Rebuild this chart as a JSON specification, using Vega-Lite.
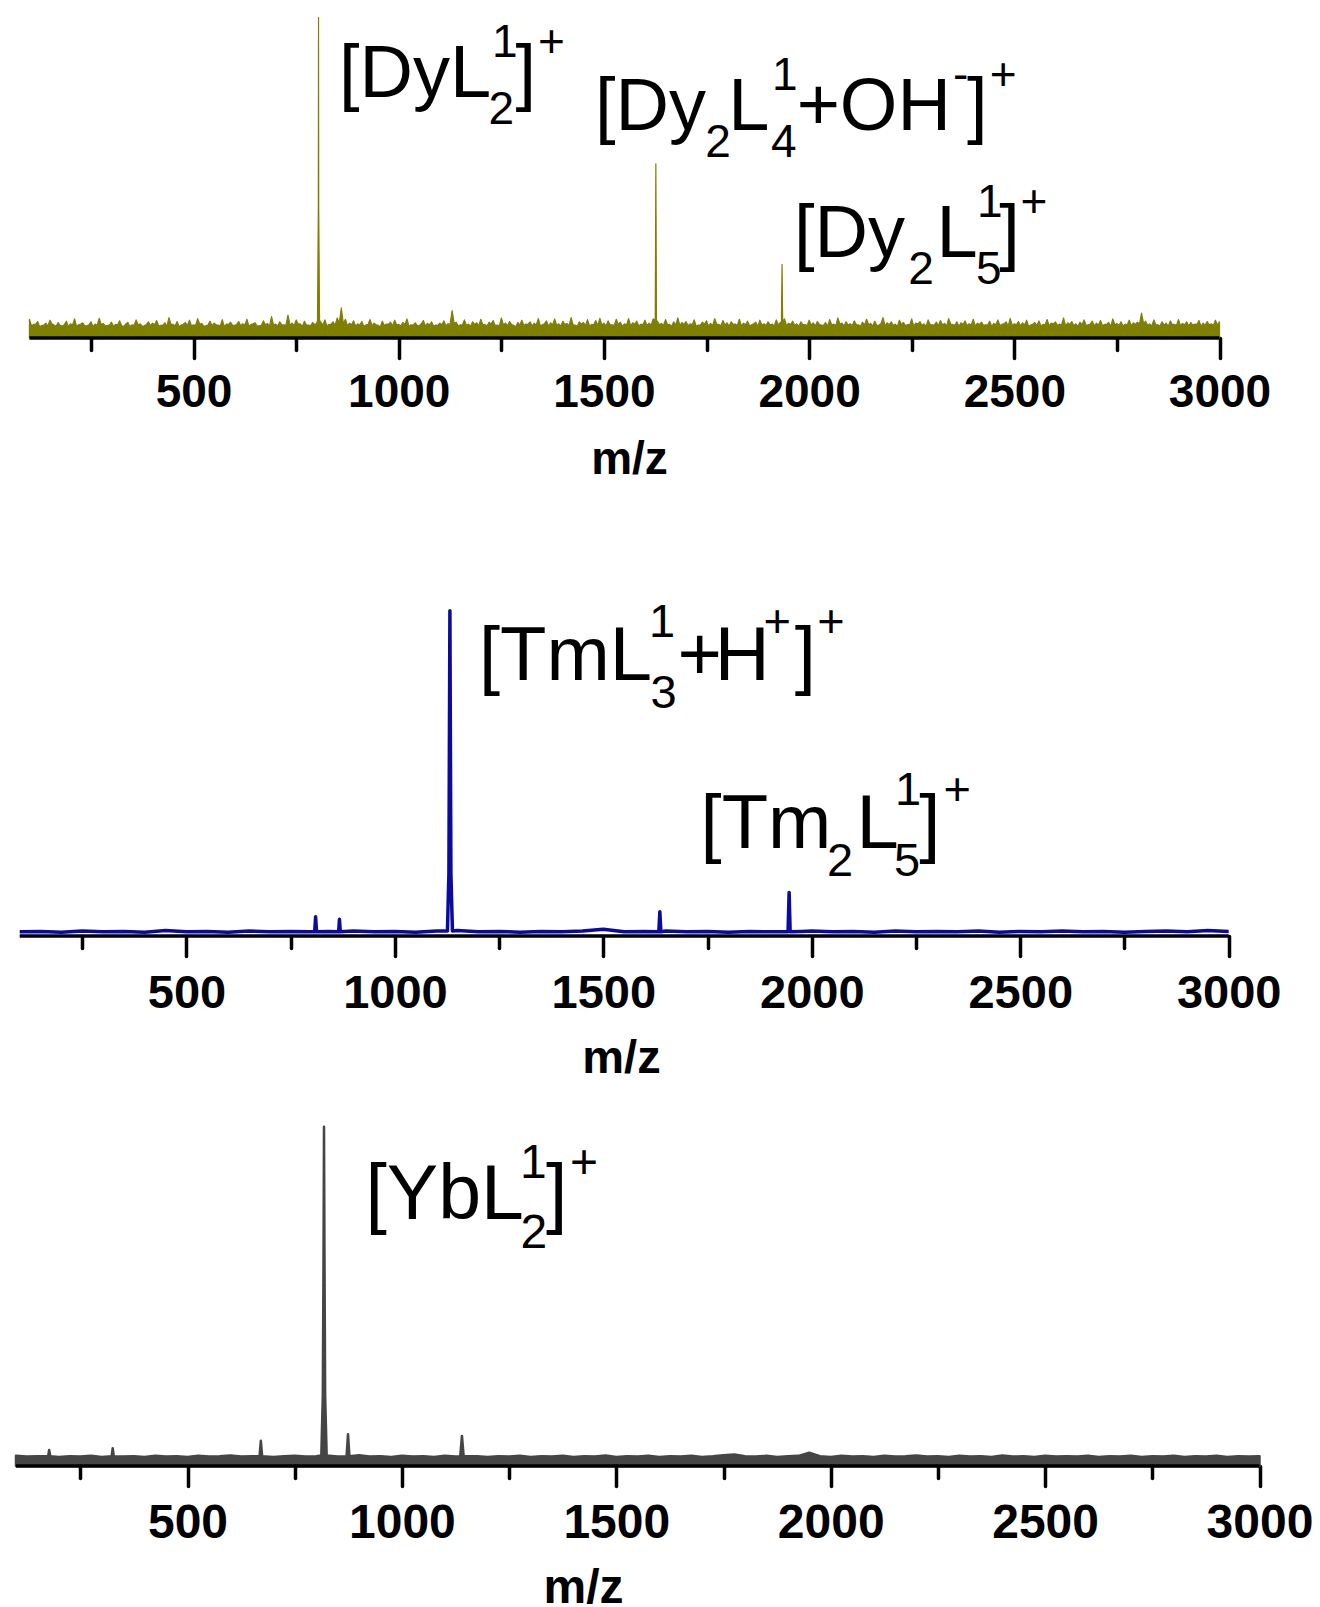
{
  "$schema": "https://vega.github.io/schema/vega-lite/v6.json",
  "padding": {"left": 14, "top": 15, "right": 0, "bottom": 0},
  "background": "white",
  "bounds": "flush",
  "spacing": 180,
  "config": {
    "view": {"stroke": null},
    "font": "Liberation Sans",
    "axis": {"grid": false, "domain": false, "format": "d", "tickColor": "black", "tickWidth": 3.5, "tickCap": "round", "labelFont": "Liberation Sans", "labelFontWeight": "bold", "labelColor": "black", "labelFlush": false, "labelOverlap": false, "labelBound": false, "labelBaseline": "alphabetic", "titleFont": "Liberation Sans", "titleFontWeight": "bold", "titleColor": "black", "titleBaseline": "alphabetic"}
  },
  "datasets": {
    "dy": [
      {"mz":100,"i":5.8},{"mz":110,"i":4.2},{"mz":120,"i":5.1},{"mz":130,"i":3.9},{"mz":140,"i":4.6},{"mz":150,"i":5.5},{"mz":160,"i":4.0},{"mz":170,"i":4.8},{"mz":180,"i":3.7},{"mz":190,"i":5.2},
      {"mz":200,"i":4.4},{"mz":210,"i":5.9},{"mz":220,"i":4.1},{"mz":230,"i":4.7},{"mz":240,"i":3.8},{"mz":250,"i":5.0},{"mz":260,"i":4.3},{"mz":270,"i":6.1},{"mz":280,"i":4.5},{"mz":290,"i":3.9},
      {"mz":300,"i":4.9},{"mz":310,"i":4.2},{"mz":320,"i":5.3},{"mz":330,"i":3.6},{"mz":340,"i":4.8},{"mz":350,"i":4.1},{"mz":360,"i":5.6},{"mz":370,"i":4.4},{"mz":380,"i":3.8},{"mz":390,"i":5.0},
      {"mz":400,"i":4.6},{"mz":410,"i":5.4},{"mz":420,"i":3.9},{"mz":430,"i":4.7},{"mz":440,"i":6.3},{"mz":450,"i":4.2},{"mz":460,"i":5.1},{"mz":470,"i":4.0},{"mz":480,"i":4.8},{"mz":490,"i":5.5},
      {"mz":500,"i":4.1},{"mz":510,"i":6.0},{"mz":520,"i":4.5},{"mz":530,"i":3.8},{"mz":540,"i":5.2},{"mz":550,"i":4.6},{"mz":560,"i":4.0},{"mz":570,"i":5.7},{"mz":580,"i":4.3},{"mz":590,"i":4.9},
      {"mz":600,"i":3.9},{"mz":610,"i":5.1},{"mz":620,"i":4.4},{"mz":630,"i":5.8},{"mz":640,"i":4.2},{"mz":650,"i":4.7},{"mz":660,"i":3.8},{"mz":670,"i":5.3},{"mz":680,"i":4.5},{"mz":690,"i":6.6},
      {"mz":700,"i":4.3},{"mz":710,"i":5.0},{"mz":720,"i":4.1},{"mz":730,"i":7.1},{"mz":740,"i":4.6},{"mz":750,"i":5.6},{"mz":760,"i":4.4},{"mz":770,"i":5.2},{"mz":780,"i":4.0},{"mz":790,"i":4.8},
      {"mz":800,"i":4.5},{"mz":802,"i":5.5},{"mz":804,"i":40},{"mz":804.5,"i":99.3},{"mz":805,"i":40},{"mz":807,"i":5.5},{"mz":810,"i":4.9},{"mz":820,"i":5.6},{"mz":830,"i":4.2},{"mz":840,"i":5.0},{"mz":850,"i":6.2},{"mz":860,"i":9.3},{"mz":870,"i":5.8},{"mz":880,"i":4.6},{"mz":890,"i":5.3},
      {"mz":900,"i":4.4},{"mz":910,"i":5.1},{"mz":920,"i":4.0},{"mz":930,"i":5.7},{"mz":940,"i":4.6},{"mz":950,"i":3.9},{"mz":960,"i":5.2},{"mz":970,"i":4.3},{"mz":980,"i":4.9},{"mz":990,"i":5.5},
      {"mz":1000,"i":4.2},{"mz":1010,"i":4.8},{"mz":1020,"i":5.9},{"mz":1030,"i":4.1},{"mz":1040,"i":4.7},{"mz":1050,"i":3.8},{"mz":1060,"i":5.4},{"mz":1070,"i":4.5},{"mz":1080,"i":5.0},{"mz":1090,"i":4.0},
      {"mz":1100,"i":4.6},{"mz":1110,"i":5.3},{"mz":1120,"i":4.4},{"mz":1130,"i":8.5},{"mz":1140,"i":4.9},{"mz":1150,"i":4.1},{"mz":1160,"i":5.6},{"mz":1170,"i":4.3},{"mz":1180,"i":5.0},{"mz":1190,"i":4.7},
      {"mz":1200,"i":5.8},{"mz":1210,"i":4.2},{"mz":1220,"i":4.9},{"mz":1230,"i":5.4},{"mz":1240,"i":4.0},{"mz":1250,"i":6.2},{"mz":1260,"i":4.6},{"mz":1270,"i":5.1},{"mz":1280,"i":3.9},{"mz":1290,"i":4.8},
      {"mz":1300,"i":5.5},{"mz":1310,"i":4.3},{"mz":1320,"i":5.0},{"mz":1330,"i":4.6},{"mz":1340,"i":6.0},{"mz":1350,"i":4.1},{"mz":1360,"i":5.3},{"mz":1370,"i":4.7},{"mz":1380,"i":5.9},{"mz":1390,"i":4.4},
      {"mz":1400,"i":5.2},{"mz":1410,"i":4.5},{"mz":1420,"i":6.3},{"mz":1430,"i":4.0},{"mz":1440,"i":5.0},{"mz":1450,"i":4.8},{"mz":1460,"i":5.7},{"mz":1470,"i":4.2},{"mz":1480,"i":5.4},{"mz":1490,"i":6.1},
      {"mz":1500,"i":4.6},{"mz":1510,"i":5.3},{"mz":1520,"i":4.1},{"mz":1530,"i":5.8},{"mz":1540,"i":4.9},{"mz":1550,"i":4.4},{"mz":1560,"i":6.0},{"mz":1570,"i":4.7},{"mz":1580,"i":5.2},{"mz":1590,"i":4.3},
      {"mz":1600,"i":5.5},{"mz":1610,"i":4.6},{"mz":1620,"i":5.9},{"mz":1625,"i":5.5},{"mz":1626.5,"i":53.9},{"mz":1628,"i":5.5},{"mz":1630,"i":5.2},{"mz":1640,"i":4.5},{"mz":1650,"i":5.7},{"mz":1660,"i":4.2},{"mz":1670,"i":5.0},{"mz":1680,"i":6.2},{"mz":1690,"i":4.8},
      {"mz":1700,"i":5.1},{"mz":1710,"i":4.4},{"mz":1720,"i":5.6},{"mz":1730,"i":4.0},{"mz":1740,"i":4.9},{"mz":1750,"i":5.3},{"mz":1760,"i":4.5},{"mz":1770,"i":6.0},{"mz":1780,"i":4.2},{"mz":1790,"i":5.4},
      {"mz":1800,"i":4.7},{"mz":1810,"i":5.0},{"mz":1820,"i":4.3},{"mz":1830,"i":5.8},{"mz":1840,"i":4.6},{"mz":1850,"i":5.2},{"mz":1860,"i":4.1},{"mz":1870,"i":4.9},{"mz":1880,"i":5.5},{"mz":1890,"i":4.4},
      {"mz":1900,"i":5.0},{"mz":1910,"i":4.3},{"mz":1920,"i":5.6},{"mz":1930,"i":4.8},{"mz":1932.5,"i":5.0},{"mz":1934,"i":22.8},{"mz":1935.5,"i":5.0},{"mz":1940,"i":5.9},{"mz":1950,"i":4.6},{"mz":1960,"i":5.2},{"mz":1970,"i":4.4},{"mz":1980,"i":5.0},{"mz":1990,"i":4.2},
      {"mz":2000,"i":5.5},{"mz":2010,"i":4.7},{"mz":2020,"i":5.1},{"mz":2030,"i":4.0},{"mz":2040,"i":4.8},{"mz":2050,"i":5.7},{"mz":2060,"i":4.3},{"mz":2070,"i":6.2},{"mz":2080,"i":4.6},{"mz":2090,"i":5.0},
      {"mz":2100,"i":4.4},{"mz":2110,"i":5.3},{"mz":2120,"i":4.1},{"mz":2130,"i":4.9},{"mz":2140,"i":5.8},{"mz":2150,"i":4.5},{"mz":2160,"i":5.2},{"mz":2170,"i":4.0},{"mz":2180,"i":6.3},{"mz":2190,"i":4.7},
      {"mz":2200,"i":5.0},{"mz":2210,"i":4.3},{"mz":2220,"i":5.5},{"mz":2230,"i":4.8},{"mz":2240,"i":4.2},{"mz":2250,"i":5.9},{"mz":2260,"i":4.6},{"mz":2270,"i":5.1},{"mz":2280,"i":4.4},{"mz":2290,"i":5.6},
      {"mz":2300,"i":4.1},{"mz":2310,"i":4.9},{"mz":2320,"i":5.4},{"mz":2330,"i":4.5},{"mz":2340,"i":6.0},{"mz":2350,"i":4.2},{"mz":2360,"i":5.0},{"mz":2370,"i":4.7},{"mz":2380,"i":5.3},{"mz":2390,"i":4.4},
      {"mz":2400,"i":5.8},{"mz":2410,"i":4.6},{"mz":2420,"i":4.9},{"mz":2430,"i":4.1},{"mz":2440,"i":5.2},{"mz":2450,"i":4.5},{"mz":2460,"i":5.6},{"mz":2470,"i":4.3},{"mz":2480,"i":5.0},{"mz":2490,"i":6.1},
      {"mz":2500,"i":4.4},{"mz":2510,"i":5.1},{"mz":2520,"i":4.7},{"mz":2530,"i":5.5},{"mz":2540,"i":4.0},{"mz":2550,"i":4.8},{"mz":2560,"i":5.3},{"mz":2570,"i":4.2},{"mz":2580,"i":5.7},{"mz":2590,"i":4.6},
      {"mz":2600,"i":5.0},{"mz":2610,"i":4.3},{"mz":2620,"i":6.2},{"mz":2630,"i":4.7},{"mz":2640,"i":5.1},{"mz":2650,"i":4.4},{"mz":2660,"i":4.9},{"mz":2670,"i":5.6},{"mz":2680,"i":4.1},{"mz":2690,"i":5.2},
      {"mz":2700,"i":4.6},{"mz":2710,"i":5.4},{"mz":2720,"i":4.2},{"mz":2730,"i":4.8},{"mz":2740,"i":5.9},{"mz":2750,"i":4.5},{"mz":2760,"i":5.0},{"mz":2770,"i":4.3},{"mz":2780,"i":5.5},{"mz":2790,"i":4.7},
      {"mz":2800,"i":4.9},{"mz":2810,"i":7.7},{"mz":2820,"i":5.2},{"mz":2830,"i":4.4},{"mz":2840,"i":5.6},{"mz":2850,"i":4.1},{"mz":2860,"i":5.0},{"mz":2870,"i":4.6},{"mz":2880,"i":5.3},{"mz":2890,"i":4.2},
      {"mz":2900,"i":5.7},{"mz":2910,"i":4.5},{"mz":2920,"i":5.0},{"mz":2930,"i":4.8},{"mz":2940,"i":4.3},{"mz":2950,"i":5.4},{"mz":2960,"i":4.6},{"mz":2970,"i":5.1},{"mz":2980,"i":4.4},{"mz":2990,"i":5.5},{"mz":3000,"i":5.0},
      {"mz":105,"i":3.8},{"mz":115,"i":4.2},{"mz":125,"i":3.5},{"mz":135,"i":4.0},{"mz":145,"i":3.7},{"mz":155,"i":4.4},{"mz":165,"i":3.6},{"mz":175,"i":3.9},{"mz":185,"i":4.1},{"mz":195,"i":3.5},
      {"mz":205,"i":4.0},{"mz":215,"i":3.6},{"mz":225,"i":4.3},{"mz":235,"i":3.8},{"mz":245,"i":4.1},{"mz":255,"i":3.5},{"mz":265,"i":3.9},{"mz":275,"i":4.2},{"mz":285,"i":3.7},{"mz":295,"i":4.0},
      {"mz":305,"i":3.6},{"mz":315,"i":4.1},{"mz":325,"i":3.8},{"mz":335,"i":4.4},{"mz":345,"i":3.5},{"mz":355,"i":3.9},{"mz":365,"i":4.0},{"mz":375,"i":3.7},{"mz":385,"i":4.2},{"mz":395,"i":3.8},
      {"mz":405,"i":4.1},{"mz":415,"i":3.7},{"mz":425,"i":4.0},{"mz":435,"i":3.6},{"mz":445,"i":4.3},{"mz":455,"i":3.8},{"mz":465,"i":3.5},{"mz":475,"i":4.2},{"mz":485,"i":3.9},{"mz":495,"i":3.7},
      {"mz":505,"i":3.9},{"mz":515,"i":4.3},{"mz":525,"i":3.6},{"mz":535,"i":4.0},{"mz":545,"i":3.8},{"mz":555,"i":4.1},{"mz":565,"i":3.7},{"mz":575,"i":3.5},{"mz":585,"i":4.2},{"mz":595,"i":3.9},
      {"mz":605,"i":4.2},{"mz":615,"i":3.8},{"mz":625,"i":4.0},{"mz":635,"i":3.6},{"mz":645,"i":4.4},{"mz":655,"i":3.7},{"mz":665,"i":3.9},{"mz":675,"i":4.1},{"mz":685,"i":3.6},{"mz":695,"i":4.0},
      {"mz":705,"i":3.7},{"mz":715,"i":4.1},{"mz":725,"i":3.9},{"mz":735,"i":4.0},{"mz":745,"i":3.8},{"mz":755,"i":4.3},{"mz":765,"i":3.6},{"mz":775,"i":4.0},{"mz":785,"i":3.8},{"mz":795,"i":4.2},
      {"mz":815,"i":4.0},{"mz":825,"i":3.7},{"mz":835,"i":4.3},{"mz":845,"i":3.9},{"mz":855,"i":4.6},{"mz":865,"i":4.4},{"mz":875,"i":3.8},{"mz":885,"i":4.1},{"mz":895,"i":3.7},
      {"mz":905,"i":4.0},{"mz":915,"i":3.6},{"mz":925,"i":4.2},{"mz":935,"i":3.8},{"mz":945,"i":4.1},{"mz":955,"i":3.5},{"mz":965,"i":3.9},{"mz":975,"i":4.3},{"mz":985,"i":3.7},{"mz":995,"i":4.0},
      {"mz":1005,"i":3.8},{"mz":1015,"i":4.2},{"mz":1025,"i":3.6},{"mz":1035,"i":4.0},{"mz":1045,"i":3.9},{"mz":1055,"i":4.4},{"mz":1065,"i":3.7},{"mz":1075,"i":4.1},{"mz":1085,"i":3.6},{"mz":1095,"i":3.9},
      {"mz":1105,"i":4.1},{"mz":1115,"i":3.8},{"mz":1125,"i":4.2},{"mz":1135,"i":4.5},{"mz":1145,"i":3.7},{"mz":1155,"i":4.0},{"mz":1165,"i":3.9},{"mz":1175,"i":3.6},{"mz":1185,"i":4.2},{"mz":1195,"i":3.8},
      {"mz":1205,"i":4.0},{"mz":1215,"i":3.7},{"mz":1225,"i":4.3},{"mz":1235,"i":3.9},{"mz":1245,"i":3.6},{"mz":1255,"i":4.1},{"mz":1265,"i":3.8},{"mz":1275,"i":4.2},{"mz":1285,"i":3.5},{"mz":1295,"i":4.0},
      {"mz":1305,"i":3.9},{"mz":1315,"i":4.2},{"mz":1325,"i":3.7},{"mz":1335,"i":4.0},{"mz":1345,"i":3.8},{"mz":1355,"i":4.4},{"mz":1365,"i":3.6},{"mz":1375,"i":4.1},{"mz":1385,"i":3.9},{"mz":1395,"i":3.7},
      {"mz":1405,"i":4.2},{"mz":1415,"i":3.8},{"mz":1425,"i":4.0},{"mz":1435,"i":3.6},{"mz":1445,"i":4.3},{"mz":1455,"i":3.9},{"mz":1465,"i":3.7},{"mz":1475,"i":4.1},{"mz":1485,"i":3.8},{"mz":1495,"i":4.0},
      {"mz":1505,"i":3.7},{"mz":1515,"i":4.1},{"mz":1525,"i":3.9},{"mz":1535,"i":4.2},{"mz":1545,"i":3.6},{"mz":1555,"i":4.0},{"mz":1565,"i":3.8},{"mz":1575,"i":4.3},{"mz":1585,"i":3.7},{"mz":1595,"i":4.1},
      {"mz":1605,"i":3.9},{"mz":1615,"i":4.0},{"mz":1635,"i":4.2},{"mz":1645,"i":3.8},{"mz":1655,"i":4.1},{"mz":1665,"i":3.6},{"mz":1675,"i":4.0},{"mz":1685,"i":3.9},{"mz":1695,"i":4.2},
      {"mz":1705,"i":3.8},{"mz":1715,"i":4.1},{"mz":1725,"i":3.6},{"mz":1735,"i":4.0},{"mz":1745,"i":4.3},{"mz":1755,"i":3.7},{"mz":1765,"i":3.9},{"mz":1775,"i":4.2},{"mz":1785,"i":3.8},{"mz":1795,"i":4.0},
      {"mz":1805,"i":3.6},{"mz":1815,"i":4.2},{"mz":1825,"i":3.9},{"mz":1835,"i":3.7},{"mz":1845,"i":4.1},{"mz":1855,"i":3.8},{"mz":1865,"i":4.4},{"mz":1875,"i":3.6},{"mz":1885,"i":4.0},{"mz":1895,"i":3.9},
      {"mz":1905,"i":4.1},{"mz":1915,"i":3.7},{"mz":1925,"i":4.0},{"mz":1945,"i":3.8},{"mz":1955,"i":4.2},{"mz":1965,"i":3.9},{"mz":1975,"i":3.6},{"mz":1985,"i":4.1},{"mz":1995,"i":3.8},
      {"mz":2005,"i":4.0},{"mz":2015,"i":3.7},{"mz":2025,"i":4.2},{"mz":2035,"i":3.9},{"mz":2045,"i":3.6},{"mz":2055,"i":4.1},{"mz":2065,"i":3.8},{"mz":2075,"i":4.3},{"mz":2085,"i":3.7},{"mz":2095,"i":4.0},
      {"mz":2105,"i":3.8},{"mz":2115,"i":4.1},{"mz":2125,"i":3.6},{"mz":2135,"i":4.0},{"mz":2145,"i":4.2},{"mz":2155,"i":3.7},{"mz":2165,"i":3.9},{"mz":2175,"i":4.4},{"mz":2185,"i":3.8},{"mz":2195,"i":4.1},
      {"mz":2205,"i":3.9},{"mz":2215,"i":3.6},{"mz":2225,"i":4.2},{"mz":2235,"i":3.8},{"mz":2245,"i":4.0},{"mz":2255,"i":3.7},{"mz":2265,"i":4.3},{"mz":2275,"i":3.9},{"mz":2285,"i":3.6},{"mz":2295,"i":4.1},
      {"mz":2305,"i":4.0},{"mz":2315,"i":3.8},{"mz":2325,"i":4.1},{"mz":2335,"i":3.7},{"mz":2345,"i":4.3},{"mz":2355,"i":3.9},{"mz":2365,"i":3.6},{"mz":2375,"i":4.2},{"mz":2385,"i":3.8},{"mz":2395,"i":4.0},
      {"mz":2405,"i":3.7},{"mz":2415,"i":4.2},{"mz":2425,"i":3.9},{"mz":2435,"i":4.0},{"mz":2445,"i":3.6},{"mz":2455,"i":4.1},{"mz":2465,"i":3.8},{"mz":2475,"i":4.4},{"mz":2485,"i":3.7},{"mz":2495,"i":3.9},
      {"mz":2505,"i":4.1},{"mz":2515,"i":3.8},{"mz":2525,"i":4.0},{"mz":2535,"i":3.6},{"mz":2545,"i":4.2},{"mz":2555,"i":3.9},{"mz":2565,"i":3.7},{"mz":2575,"i":4.1},{"mz":2585,"i":3.8},{"mz":2595,"i":4.3},
      {"mz":2605,"i":3.9},{"mz":2615,"i":4.0},{"mz":2625,"i":3.7},{"mz":2635,"i":4.2},{"mz":2645,"i":3.8},{"mz":2655,"i":3.6},{"mz":2665,"i":4.1},{"mz":2675,"i":3.9},{"mz":2685,"i":4.3},{"mz":2695,"i":3.7},
      {"mz":2705,"i":4.0},{"mz":2715,"i":3.8},{"mz":2725,"i":4.2},{"mz":2735,"i":3.6},{"mz":2745,"i":4.1},{"mz":2755,"i":3.9},{"mz":2765,"i":3.7},{"mz":2775,"i":4.0},{"mz":2785,"i":3.8},{"mz":2795,"i":4.2},
      {"mz":2805,"i":4.3},{"mz":2815,"i":4.5},{"mz":2825,"i":3.9},{"mz":2835,"i":3.7},{"mz":2845,"i":4.1},{"mz":2855,"i":3.8},{"mz":2865,"i":4.0},{"mz":2875,"i":3.6},{"mz":2885,"i":4.2},{"mz":2895,"i":3.9},
      {"mz":2905,"i":3.8},{"mz":2915,"i":4.1},{"mz":2925,"i":3.7},{"mz":2935,"i":4.0},{"mz":2945,"i":4.2},{"mz":2955,"i":3.6},{"mz":2965,"i":3.9},{"mz":2975,"i":4.1},{"mz":2985,"i":3.8},{"mz":2995,"i":4.0}
    ],
    "tm": [
      {"mz":100,"i":1.0},{"mz":150,"i":1.1},{"mz":200,"i":0.9},{"mz":250,"i":1.2},{"mz":300,"i":1.0},{"mz":350,"i":1.1},{"mz":400,"i":0.9},{"mz":450,"i":1.3},{"mz":500,"i":1.0},{"mz":550,"i":1.1},
      {"mz":600,"i":0.9},{"mz":650,"i":1.2},{"mz":700,"i":1.0},{"mz":750,"i":1.1},{"mz":800,"i":1.0},{"mz":807.5,"i":1.0},{"mz":809.8,"i":4.6},{"mz":812,"i":1.0},{"mz":840,"i":1.1},
      {"mz":865,"i":1.0},{"mz":867,"i":4.0},{"mz":869,"i":1.0},{"mz":900,"i":1.2},{"mz":950,"i":1.0},{"mz":1000,"i":1.1},{"mz":1050,"i":0.9},{"mz":1100,"i":1.2},
      {"mz":1126,"i":1.2},{"mz":1129.5,"i":15},{"mz":1131.9,"i":77.8},{"mz":1134.3,"i":15},{"mz":1138,"i":1.2},
      {"mz":1150,"i":1.3},{"mz":1200,"i":1.0},{"mz":1250,"i":1.1},{"mz":1300,"i":0.9},{"mz":1350,"i":1.1},{"mz":1400,"i":1.0},{"mz":1450,"i":1.2},{"mz":1500,"i":1.6},{"mz":1550,"i":1.0},{"mz":1600,"i":1.1},
      {"mz":1633,"i":1.0},{"mz":1635.5,"i":5.8},{"mz":1638,"i":1.0},{"mz":1650,"i":1.2},{"mz":1700,"i":1.0},{"mz":1750,"i":1.1},{"mz":1800,"i":0.9},{"mz":1850,"i":1.1},{"mz":1900,"i":1.0},
      {"mz":1943,"i":1.0},{"mz":1945.6,"i":10.4},{"mz":1948,"i":1.0},{"mz":1975,"i":1.1},{"mz":2000,"i":1.2},{"mz":2050,"i":1.0},{"mz":2100,"i":1.1},{"mz":2150,"i":0.9},{"mz":2200,"i":1.2},
      {"mz":2250,"i":1.0},{"mz":2300,"i":1.1},{"mz":2350,"i":1.0},{"mz":2400,"i":1.2},{"mz":2450,"i":0.9},{"mz":2500,"i":1.1},{"mz":2550,"i":1.0},{"mz":2600,"i":1.2},{"mz":2650,"i":1.0},
      {"mz":2700,"i":1.1},{"mz":2750,"i":0.9},{"mz":2800,"i":1.1},{"mz":2850,"i":1.2},{"mz":2900,"i":1.0},{"mz":2950,"i":1.3},{"mz":3000,"i":1.1}
    ],
    "yb": [
      {"mz":100,"i":2.9},{"mz":125,"i":2.7},{"mz":150,"i":2.8},{"mz":175,"i":2.8},{"mz":177.3,"i":4.6},{"mz":180,"i":2.8},{"mz":200,"i":2.6},{"mz":225,"i":2.8},{"mz":250,"i":2.7},{"mz":275,"i":2.9},{"mz":300,"i":2.6},
      {"mz":323,"i":2.8},{"mz":325.5,"i":5.1},{"mz":328,"i":2.8},{"mz":350,"i":2.7},{"mz":375,"i":2.8},{"mz":400,"i":2.6},{"mz":425,"i":2.9},{"mz":450,"i":2.7},{"mz":475,"i":2.8},{"mz":500,"i":2.6},
      {"mz":525,"i":2.9},{"mz":550,"i":2.7},{"mz":575,"i":2.8},{"mz":600,"i":3.0},{"mz":625,"i":2.7},{"mz":650,"i":2.8},{"mz":668,"i":2.8},{"mz":671,"i":7.2},{"mz":674,"i":2.8},
      {"mz":700,"i":2.6},{"mz":725,"i":2.8},{"mz":750,"i":2.9},{"mz":775,"i":2.7},{"mz":800,"i":2.8},
      {"mz":812,"i":3.0},{"mz":815.5,"i":20},{"mz":817.2,"i":60},{"mz":818.3,"i":96.9},{"mz":819.4,"i":60},{"mz":821,"i":20},{"mz":824.5,"i":3.0},
      {"mz":850,"i":2.7},{"mz":871,"i":2.8},{"mz":874.3,"i":9.1},{"mz":877.5,"i":2.8},{"mz":900,"i":3.1},{"mz":925,"i":2.7},{"mz":950,"i":2.8},{"mz":975,"i":2.6},{"mz":1000,"i":2.9},
      {"mz":1025,"i":2.7},{"mz":1050,"i":2.8},{"mz":1075,"i":2.6},{"mz":1100,"i":2.9},{"mz":1125,"i":2.7},{"mz":1136,"i":2.8},{"mz":1140,"i":8.6},{"mz":1144,"i":2.8},{"mz":1175,"i":2.8},
      {"mz":1200,"i":2.6},{"mz":1225,"i":2.8},{"mz":1250,"i":2.7},{"mz":1275,"i":2.9},{"mz":1300,"i":2.6},{"mz":1325,"i":2.8},{"mz":1350,"i":2.7},{"mz":1375,"i":2.9},{"mz":1400,"i":2.6},
      {"mz":1425,"i":2.8},{"mz":1450,"i":2.7},{"mz":1475,"i":3.0},{"mz":1500,"i":2.6},{"mz":1525,"i":2.8},{"mz":1550,"i":2.7},{"mz":1575,"i":2.9},{"mz":1600,"i":2.6},{"mz":1625,"i":2.8},
      {"mz":1650,"i":2.7},{"mz":1675,"i":2.9},{"mz":1700,"i":2.6},{"mz":1725,"i":2.8},{"mz":1750,"i":3.1},{"mz":1775,"i":3.3},{"mz":1800,"i":2.8},{"mz":1825,"i":2.7},{"mz":1850,"i":2.9},
      {"mz":1875,"i":2.6},{"mz":1900,"i":2.8},{"mz":1925,"i":2.9},{"mz":1950,"i":3.8},{"mz":1975,"i":2.8},{"mz":2000,"i":2.6},{"mz":2025,"i":2.9},{"mz":2050,"i":2.7},{"mz":2075,"i":2.8},
      {"mz":2100,"i":2.6},{"mz":2125,"i":2.9},{"mz":2150,"i":2.7},{"mz":2175,"i":2.8},{"mz":2200,"i":3.0},{"mz":2225,"i":2.7},{"mz":2250,"i":2.8},{"mz":2275,"i":2.6},{"mz":2300,"i":2.9},
      {"mz":2325,"i":2.7},{"mz":2350,"i":2.8},{"mz":2375,"i":2.6},{"mz":2400,"i":3.0},{"mz":2425,"i":2.7},{"mz":2450,"i":2.8},{"mz":2475,"i":2.6},{"mz":2500,"i":2.9},{"mz":2525,"i":2.7},
      {"mz":2550,"i":2.8},{"mz":2575,"i":2.7},{"mz":2600,"i":2.9},{"mz":2625,"i":2.6},{"mz":2650,"i":2.8},{"mz":2675,"i":2.7},{"mz":2700,"i":2.9},{"mz":2725,"i":2.6},{"mz":2750,"i":2.8},
      {"mz":2775,"i":2.7},{"mz":2800,"i":2.9},{"mz":2825,"i":2.6},{"mz":2850,"i":2.8},{"mz":2875,"i":2.7},{"mz":2900,"i":2.9},{"mz":2925,"i":2.6},{"mz":2950,"i":2.8},{"mz":2975,"i":2.7},{"mz":3000,"i":2.8}
    ],
    "lab1": [
      {"t":"[DyL","x":854.3,"y":74.6,"r":"main"},
      {"t":"2","x":1218.6,"y":74.6,"r":"sub"},
      {"t":"1","x":1227.2,"y":74.6,"r":"sup"},
      {"t":"]","x":1284.4,"y":74.6,"r":"main"},
      {"t":"+","x":1339.2,"y":74.6,"r":"sup"},
      {"t":"[Dy","x":1478.1,"y":64.4,"r":"main"},
      {"t":"2","x":1746.6,"y":64.4,"r":"sub"},
      {"t":"L","x":1802.9,"y":64.4,"r":"main"},
      {"t":"4","x":1907.0,"y":64.4,"r":"sub"},
      {"t":"1","x":1909.4,"y":64.4,"r":"sup"},
      {"t":"+OH","x":1969.6,"y":64.4,"r":"main"},
      {"t":"-","x":2350.4,"y":64.4,"r":"sup"},
      {"t":"]","x":2385.0,"y":64.4,"r":"main"},
      {"t":"+","x":2439.9,"y":64.4,"r":"sup"},
      {"t":"[Dy","x":1963.0,"y":25.2,"r":"main"},
      {"t":"2","x":2241.3,"y":25.2,"r":"sub"},
      {"t":"L","x":2310.5,"y":25.2,"r":"main"},
      {"t":"5","x":2406.5,"y":25.2,"r":"sub"},
      {"t":"1","x":2408.9,"y":25.2,"r":"sup"},
      {"t":"]","x":2463.5,"y":25.2,"r":"main"},
      {"t":"+","x":2515.0,"y":25.2,"r":"sup"}
    ],
    "lab2": [
      {"t":"[TmL","x":1201.5,"y":61.2,"r":"main"},
      {"t":"3","x":1613.1,"y":61.2,"r":"sub"},
      {"t":"1","x":1609.5,"y":61.2,"r":"sup"},
      {"t":"+","x":1678.0,"y":61.2,"r":"main"},
      {"t":"H","x":1767.0,"y":61.2,"r":"main"},
      {"t":"+","x":1884.0,"y":61.2,"r":"sup"},
      {"t":"]","x":1958.9,"y":61.2,"r":"main"},
      {"t":"+","x":2013.1,"y":61.2,"r":"sup"},
      {"t":"[Tm","x":1733.1,"y":21.05,"r":"main"},
      {"t":"2","x":2036.5,"y":21.05,"r":"sub"},
      {"t":"L","x":2107.0,"y":21.05,"r":"main"},
      {"t":"5","x":2197.2,"y":21.05,"r":"sub"},
      {"t":"1","x":2199.6,"y":21.05,"r":"sup"},
      {"t":"]","x":2258.0,"y":21.05,"r":"main"},
      {"t":"+","x":2316.0,"y":21.05,"r":"sup"}
    ],
    "lab3": [
      {"t":"[YbL","x":914.8,"y":70.6,"r":"main"},
      {"t":"2","x":1276.5,"y":70.6,"r":"sub"},
      {"t":"1","x":1275.4,"y":70.6,"r":"sup"},
      {"t":"]","x":1336.0,"y":70.6,"r":"main"},
      {"t":"+","x":1392.0,"y":70.6,"r":"sup"}
    ]
  },
  "vconcat": [
    {
      "width": 1203.5, "height": 323,
      "resolve": {"axis": {"x": "independent"}},
      "layer": [
        {
          "data": {"name": "dy"},
          "mark": {"type": "area", "color": "#808000", "stroke": "#808000", "strokeWidth": 1.2, "strokeJoin": "round"},
          "encoding": {
            "x": {"field": "mz", "type": "quantitative", "scale": {"domain": [67.3, 3000], "nice": false, "zero": false},
                  "axis": {"orient": "bottom", "values": [500, 1000, 1500, 2000, 2500, 3000], "tickSize": 20, "labelFontSize": 46, "labelPadding": 48, "title": "m/z", "titleFontSize": 46, "titleX": 613, "titleY": 135}},
            "y": {"field": "i", "type": "quantitative", "scale": {"domain": [0, 100], "nice": false, "zero": true}, "axis": null}
          }
        },
        {
          "data": {"values": [{"a": 100, "b": 3000}]},
          "mark": {"type": "rule", "color": "black", "strokeWidth": 3.5},
          "encoding": {
            "x": {"field": "a", "type": "quantitative", "scale": {"domain": [67.3, 3000], "nice": false, "zero": false},
                  "axis": {"orient": "bottom", "values": [250, 750, 1250, 1750, 2250, 2750], "tickSize": 12, "labels": false, "title": null}},
            "x2": {"field": "b"},
            "y": {"datum": 0, "type": "quantitative", "scale": {"domain": [0, 100], "nice": false, "zero": true}, "axis": null}
          }
        },
        {
          "data": {"name": "lab1"},
          "transform": [{"filter": "datum.r === 'main'"}],
          "mark": {"type": "text", "align": "left", "baseline": "alphabetic", "fontSize": 74, "font": "Liberation Sans", "color": "black"},
          "encoding": {
            "x": {"field": "x", "type": "quantitative", "axis": null},
            "y": {"field": "y", "type": "quantitative", "axis": null},
            "text": {"field": "t"}
          }
        },
        {
          "data": {"name": "lab1"},
          "transform": [{"filter": "datum.r === 'sub'"}],
          "mark": {"type": "text", "align": "left", "baseline": "alphabetic", "fontSize": 46, "dy": 27, "font": "Liberation Sans", "color": "black"},
          "encoding": {
            "x": {"field": "x", "type": "quantitative", "axis": null},
            "y": {"field": "y", "type": "quantitative", "axis": null},
            "text": {"field": "t"}
          }
        },
        {
          "data": {"name": "lab1"},
          "transform": [{"filter": "datum.r === 'sup'"}],
          "mark": {"type": "text", "align": "left", "baseline": "alphabetic", "fontSize": 46, "dy": -40, "font": "Liberation Sans", "color": "black"},
          "encoding": {
            "x": {"field": "x", "type": "quantitative", "axis": null},
            "y": {"field": "y", "type": "quantitative", "axis": null},
            "text": {"field": "t"}
          }
        }
      ]
    },
    {
      "width": 1212.7, "height": 418,
      "resolve": {"axis": {"x": "independent"}},
      "layer": [
        {
          "data": {"name": "tm"},
          "mark": {"type": "line", "color": "#0A0AA0", "strokeWidth": 3.5, "strokeJoin": "round"},
          "encoding": {
            "x": {"field": "mz", "type": "quantitative", "scale": {"domain": [91.1, 3000], "nice": false, "zero": false},
                  "axis": {"orient": "bottom", "values": [500, 1000, 1500, 2000, 2500, 3000], "tickSize": 20, "labelFontSize": 47, "labelPadding": 51, "title": "m/z", "titleFontSize": 47, "titleX": 605, "titleY": 136}},
            "y": {"field": "i", "type": "quantitative", "scale": {"domain": [0, 100], "nice": false, "zero": true}, "axis": null}
          }
        },
        {
          "data": {"values": [{"a": 100, "b": 3000}]},
          "mark": {"type": "rule", "color": "black", "strokeWidth": 3.5},
          "encoding": {
            "x": {"field": "a", "type": "quantitative", "scale": {"domain": [91.1, 3000], "nice": false, "zero": false},
                  "axis": {"orient": "bottom", "values": [250, 750, 1250, 1750, 2250, 2750], "tickSize": 12, "labels": false, "title": null}},
            "x2": {"field": "b"},
            "y": {"datum": 0, "type": "quantitative", "scale": {"domain": [0, 100], "nice": false, "zero": true}, "axis": null}
          }
        },
        {
          "data": {"name": "lab2"},
          "transform": [{"filter": "datum.r === 'main'"}],
          "mark": {"type": "text", "align": "left", "baseline": "alphabetic", "fontSize": 76, "font": "Liberation Sans", "color": "black"},
          "encoding": {
            "x": {"field": "x", "type": "quantitative", "axis": null},
            "y": {"field": "y", "type": "quantitative", "axis": null},
            "text": {"field": "t"}
          }
        },
        {
          "data": {"name": "lab2"},
          "transform": [{"filter": "datum.r === 'sub'"}],
          "mark": {"type": "text", "align": "left", "baseline": "alphabetic", "fontSize": 47, "dy": 28, "font": "Liberation Sans", "color": "black"},
          "encoding": {
            "x": {"field": "x", "type": "quantitative", "axis": null},
            "y": {"field": "y", "type": "quantitative", "axis": null},
            "text": {"field": "t"}
          }
        },
        {
          "data": {"name": "lab2"},
          "transform": [{"filter": "datum.r === 'sup'"}],
          "mark": {"type": "text", "align": "left", "baseline": "alphabetic", "fontSize": 47, "dy": -43, "font": "Liberation Sans", "color": "black"},
          "encoding": {
            "x": {"field": "x", "type": "quantitative", "axis": null},
            "y": {"field": "y", "type": "quantitative", "axis": null},
            "text": {"field": "t"}
          }
        }
      ]
    },
    {
      "width": 1243.5, "height": 350,
      "resolve": {"axis": {"x": "independent"}},
      "layer": [
        {
          "data": {"name": "yb"},
          "mark": {"type": "area", "color": "#454545", "stroke": "#454545", "strokeWidth": 2.5, "strokeJoin": "round"},
          "encoding": {
            "x": {"field": "mz", "type": "quantitative", "scale": {"domain": [100, 3000], "nice": false, "zero": false},
                  "axis": {"orient": "bottom", "values": [500, 1000, 1500, 2000, 2500, 3000], "tickSize": 20, "labelFontSize": 48, "labelPadding": 51, "title": "m/z", "titleFontSize": 48, "titleX": 567, "titleY": 136}},
            "y": {"field": "i", "type": "quantitative", "scale": {"domain": [0, 100], "nice": false, "zero": true}, "axis": null}
          }
        },
        {
          "data": {"values": [{"a": 100, "b": 3000}]},
          "mark": {"type": "rule", "color": "black", "strokeWidth": 3.5},
          "encoding": {
            "x": {"field": "a", "type": "quantitative", "scale": {"domain": [100, 3000], "nice": false, "zero": false},
                  "axis": {"orient": "bottom", "values": [250, 750, 1250, 1750, 2250, 2750], "tickSize": 12, "labels": false, "title": null}},
            "x2": {"field": "b"},
            "y": {"datum": 0, "type": "quantitative", "scale": {"domain": [0, 100], "nice": false, "zero": true}, "axis": null}
          }
        },
        {
          "data": {"name": "lab3"},
          "transform": [{"filter": "datum.r === 'main'"}],
          "mark": {"type": "text", "align": "left", "baseline": "alphabetic", "fontSize": 77, "font": "Liberation Sans", "color": "black"},
          "encoding": {
            "x": {"field": "x", "type": "quantitative", "axis": null},
            "y": {"field": "y", "type": "quantitative", "axis": null},
            "text": {"field": "t"}
          }
        },
        {
          "data": {"name": "lab3"},
          "transform": [{"filter": "datum.r === 'sub'"}],
          "mark": {"type": "text", "align": "left", "baseline": "alphabetic", "fontSize": 48, "dy": 29, "font": "Liberation Sans", "color": "black"},
          "encoding": {
            "x": {"field": "x", "type": "quantitative", "axis": null},
            "y": {"field": "y", "type": "quantitative", "axis": null},
            "text": {"field": "t"}
          }
        },
        {
          "data": {"name": "lab3"},
          "transform": [{"filter": "datum.r === 'sup'"}],
          "mark": {"type": "text", "align": "left", "baseline": "alphabetic", "fontSize": 48, "dy": -41, "font": "Liberation Sans", "color": "black"},
          "encoding": {
            "x": {"field": "x", "type": "quantitative", "axis": null},
            "y": {"field": "y", "type": "quantitative", "axis": null},
            "text": {"field": "t"}
          }
        }
      ]
    }
  ]
}
